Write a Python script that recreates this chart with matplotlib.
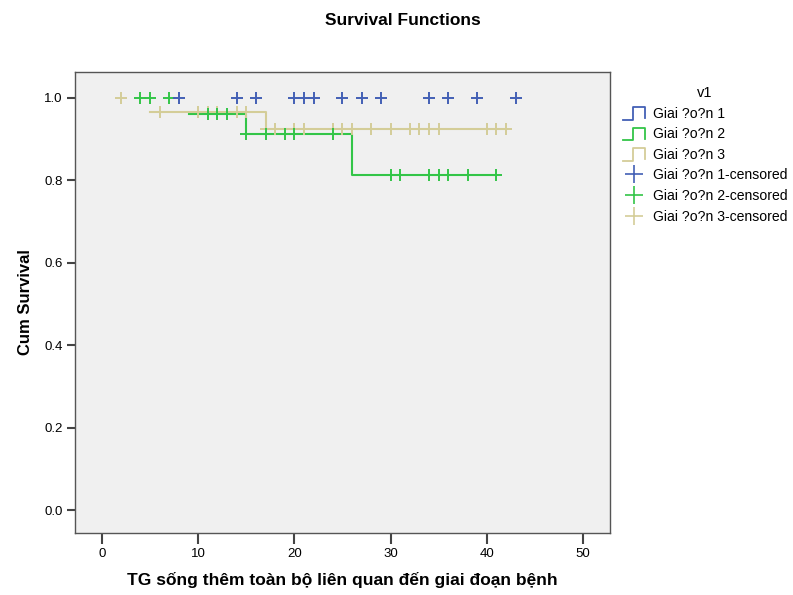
import numpy as np
import matplotlib
matplotlib.use("Agg")
import matplotlib.pyplot as plt
from matplotlib.lines import Line2D
from matplotlib.legend_handler import HandlerBase

plt.rcParams['font.family'] = ['Liberation Sans', 'DejaVu Sans']

# Kaplan-Meier estimates
g1_censored = [8, 14, 16, 20, 21, 22, 25, 27, 29, 34, 36, 39, 43]

g2_event_t = [9, 15, 26]
g2_event_s = [0.960, 0.912, 0.813]
g2_end = 41
g2_censored = [4, 5, 7, 11, 12, 13, 15, 17, 19, 20, 24, 30, 31, 34, 35, 36, 38, 41]

g3_event_t = [5, 17]
g3_event_s = [0.967, 0.924]
g3_end = 42
g3_censored = [2, 6, 10, 11, 12, 14, 15, 17, 18, 20, 21, 24, 25, 26, 28, 30,
               32, 33, 34, 35, 40, 41, 42]

group_labels = ["Giai ?o?n 1", "Giai ?o?n 2", "Giai ?o?n 3"]
colors = ["#4360b5", "#33c548", "#d4cd98"]


def surv_at(t, ev_t, ev_s):
    s = 1.0
    for et, es in zip(ev_t, ev_s):
        if t >= et:
            s = es
    return s


def step_xy(ev_t, ev_s, end):
    xs, ys = [], []
    for i, (et, es) in enumerate(zip(ev_t, ev_s)):
        if i > 0:
            xs.append(et)
            ys.append(ev_s[i - 1])
        xs.append(et)
        ys.append(es)
    xs.append(end)
    ys.append(ev_s[-1])
    return xs, ys


class StepHandler(HandlerBase):
    # little step glyph like the SPSS legend
    def create_artists(self, legend, orig_handle, xdescent, ydescent,
                       width, height, fontsize, trans):
        x0 = -xdescent
        y0 = -ydescent - 0.2 * height
        h = height * 1.25
        xs = [x0, x0 + 0.45 * width, x0 + 0.45 * width,
              x0 + width, x0 + width]
        ys = [y0, y0, y0 + h, y0 + h, y0 + 0.1 * h]
        ln = Line2D(xs, ys, color=orig_handle.get_color(), lw=1.3,
                    transform=trans)
        return [ln]


fig = plt.figure(figsize=(7.93, 5.95), dpi=100)
ax = fig.add_axes([0.0946, 0.104, 0.6746, 0.775])
ax.set_facecolor("#f0f0f0")

# step lines (group 1 has no events)
line_handles = []
for lab, col, ev in zip(group_labels, colors,
                        [None, (g2_event_t, g2_event_s, g2_end),
                         (g3_event_t, g3_event_s, g3_end)]):
    if ev is not None:
        xs, ys = step_xy(*ev)
        ax.plot(xs, ys, color=col, lw=1.5, zorder=2)
    line_handles.append(Line2D([], [], color=col))

# censored marks
cens_handles = []
cens_sets = [(g1_censored, [], []), (g2_censored, g2_event_t, g2_event_s),
             (g3_censored, g3_event_t, g3_event_s)]
for k in [2, 1, 0]:
    ct, et, es = cens_sets[k]
    ys = [surv_at(t, et, es) for t in ct]
    ax.plot(ct, ys, linestyle="none", marker="+", ms=9, mew=1.4,
            color=colors[k], zorder=3)
for k in range(3):
    cens_handles.append(Line2D([], [], linestyle="none", marker="+", ms=13,
                               mew=1.2, color=colors[k]))

ax.set_xlim(-2.8, 52.8)
ax.set_ylim(-0.056, 1.063)
ax.set_xticks(np.arange(0, 51, 10))
ax.set_yticks(np.arange(0, 1.01, 0.2))
ax.set_yticklabels([f"{v:.1f}" for v in np.arange(0, 1.01, 0.2)])
ax.tick_params(axis="x", length=8, width=1.5, color="#444444", labelsize=9.5,
               pad=3)
ax.tick_params(axis="y", length=6, width=1.5, color="#444444", labelsize=9.5,
               pad=3)
for sp in ax.spines.values():
    sp.set_color("#555555")
    sp.set_linewidth(1.0)

ax.set_xlabel("TG sống thêm toàn bộ liên quan đến giai đoạn bệnh",
              fontsize=12.5, fontweight="bold", labelpad=8)
ax.set_ylabel("Cum Survival", fontsize=12, fontweight="bold", labelpad=8)
fig.text(0.508, 0.965, "Survival Functions", ha="center", va="center",
         fontsize=12.5, fontweight="bold")

labels = group_labels + [g + "-censored" for g in group_labels]
handles = line_handles + cens_handles
hmap = {h: StepHandler() for h in line_handles}
leg = fig.legend(handles, labels, title="v1", loc="upper left",
                 bbox_to_anchor=(0.773, 0.872), frameon=False, fontsize=10.1,
                 title_fontsize=10.5, handler_map=hmap, handlelength=1.55,
                 handletextpad=0.6, labelspacing=0.47, borderpad=0.2)

fig.savefig("out.png", dpi=100)
